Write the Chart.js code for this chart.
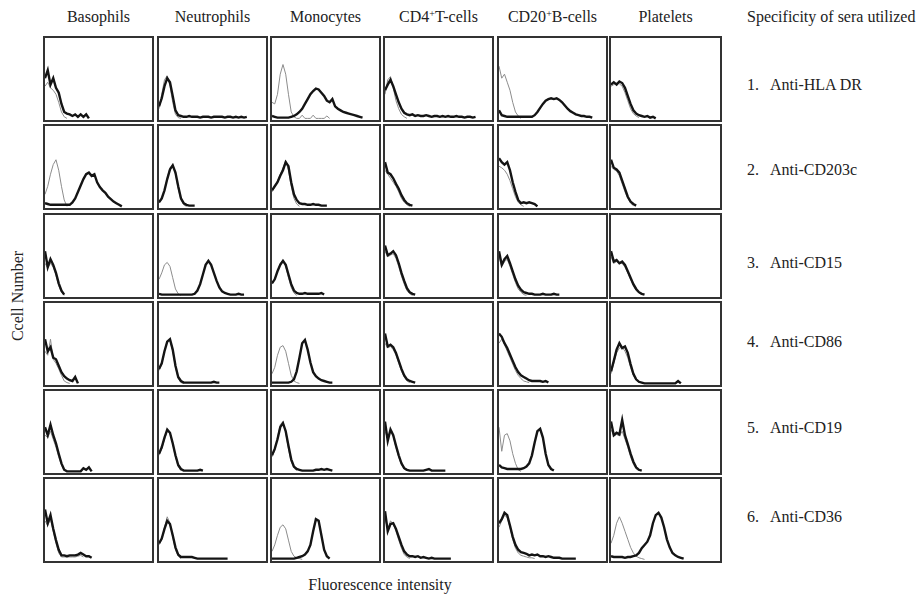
<!DOCTYPE html>
<html>
<head>
<meta charset="utf-8">
<script src="https://cdn.jsdelivr.net/npm/chart.js@4.4.1/dist/chart.umd.min.js"></script>
<style>
  body { margin: 0; width: 920px; height: 597px; background: #fff; position: relative; overflow: hidden;
         font-family: 'Liberation Serif', 'Times New Roman', serif; color: #222; }
  .lbl { position: absolute; font-size: 16px; line-height: 18px; white-space: nowrap; }
  .panel { position: absolute; box-sizing: border-box; border: 2px solid #333; background: #fff; }
  .panel canvas { display: block; }
  sup { font-size: 10px; vertical-align: 5px; line-height: 0; }
</style>
</head>
<body>
<script>
// cell populations (columns) and sera (rows)
const cellTypes = ['Basophils', 'Neutrophils', 'Monocytes', 'CD4<sup>+</sup>T-cells', 'CD20<sup>+</sup>B-cells', 'Platelets'];
const seraLabels = ['Anti-HLA DR', 'Anti-CD203c', 'Anti-CD15', 'Anti-CD86', 'Anti-CD19', 'Anti-CD36'];

// fluorescence channels (40 bins per histogram)
const channels = Array.from({ length: 40 }, (_, i) => i);

// cell counts per channel, one entry per cell type (bas, neu, mono, cd4, cd20, plt)
// test = specific serum (thick black), control = control serum (thin grey)
const hlaDrTest = [
  [50,60,42,50,38,32,18,8,6,5,3,5,2,5,2,5,0],
  [15,25,40,50,45,28,10,4,3,2,2,3,2,2,2,1,2,2,2,1,2,2,2,2,1,2,2,1,2,1,2,1,2],
  [3,2,1,1,1,1,1,2,3,5,8,12,18,24,30,34,37,36,32,28,22,20,24,15,12,10,8,7,6,5,4,3,2,1],
  [35,42,48,40,30,20,12,7,5,4,5,3,4,3,3,4,3,2,3,3,2,3,2,3,2,2,3,2,2,1,2,2,1,2],
  [10,4,3,2,2,2,2,2,2,2,2,2,2,4,8,13,18,22,24,25,24,25,23,20,16,12,9,7,5,4,3,3,2,2,1],
  [42,45,42,46,44,38,28,18,10,6,4,3,2,3,1,2,0]
];
const hlaDrControl = [
  [40,45,38,35,30,20,8,2,0],
  [12,30,48,53,40,20,5,1,0],
  [20,18,30,55,67,55,30,8,2,0,0,4,0,0,0,4,0,0,0,0,3,0],
  [30,48,52,38,22,12,5,2,0],
  [65,50,55,45,35,20,8,3,0],
  [40,42,44,43,40,32,22,12,6,3,1]
];

const cd203cTest = [
  [4,3,2,2,2,2,2,2,2,2,5,10,18,26,34,40,42,38,40,30,24,20,17,12,9,6,4,2,0],
  [5,10,20,34,46,51,42,25,10,4,2,1,1,1],
  [20,25,30,38,45,55,50,30,15,8,4,3,3,2,2,3,2,2,1,1,1],
  [55,42,40,35,28,22,14,8,4,2,1],
  [60,55,52,55,45,30,18,8,4,5,4,5,4,3,0],
  [58,48,46,42,32,22,12,6,3,1]
];
const cd203cControl = [
  [15,25,40,52,58,45,25,8,0],
  [4,9,20,35,48,52,40,22,8,2,0],
  [18,24,32,40,48,57,45,25,10,3,0],
  [45,40,35,30,25,18,10,5,2,0],
  [50,48,45,40,32,22,12,5,2,0],
  [50,46,44,38,28,18,10,4,1]
];

const cd15Test = [
  [55,35,45,38,28,15,6,1],
  [2,1,1,1,1,1,1,1,1,1,1,1,1,2,6,14,26,38,43,38,28,18,10,5,3,2,1,1,1,2,1,1],
  [15,20,30,38,43,38,26,14,6,3,2,2,3,2,2,2,2,2,3,1],
  [62,50,52,55,50,40,28,18,9,4,2,1],
  [55,38,45,49,40,30,20,12,7,4,3,2,2,1,1,1,2,1,1,1,2,1,1],
  [55,42,44,40,42,38,30,22,14,8,4,2,1]
];
const cd15Control = [
  [40,34,40,35,25,12,4,0],
  [20,28,38,41,36,22,8,2,0],
  [14,20,30,40,44,36,22,10,3,0],
  [55,48,50,52,46,36,24,14,6,2,0],
  [48,36,42,45,36,26,16,8,4,1,0],
  [48,40,42,40,40,35,28,20,12,6,3,1]
];

const cd86Test = [
  [55,40,45,32,30,22,14,9,6,4,3,8,0],
  [18,25,40,52,55,42,22,8,3,1,1,1,1,1,1,1,1,1,1,1,2,1,1],
  [1,1,1,1,1,1,1,2,5,15,32,50,54,42,26,14,9,6,4,3,2,1,1],
  [62,46,48,45,38,28,18,10,5,3,2,1],
  [62,58,50,44,36,28,20,14,10,8,6,4,3,3,3,3,2,3,1],
  [15,28,42,50,44,46,38,24,12,5,2,1,0,0,0,0,0,0,0,0,0,0,0,0,3,0]
];
const cd86Control = [
  [40,35,55,30,25,18,10,3,1,0],
  [16,24,40,53,54,40,20,6,1,0],
  [12,20,35,45,47,40,25,10,3,1,0],
  [50,44,46,42,35,25,15,8,3,1],
  [50,55,48,40,32,24,16,10,6,3,2,1],
  [12,25,38,44,45,40,32,20,10,4,1]
];

const cd19Test = [
  [55,45,58,45,35,22,10,2,0,0,0,0,0,0,4,2,5,0],
  [22,30,42,52,48,35,20,8,3,1,1,1,1,1,1,2,1],
  [20,28,40,55,60,50,32,15,6,3,2,1,1,1,1,1,2,2,3,2,3,2,1],
  [62,38,52,45,32,20,10,4,2,1,1,1,1,1,1,2,3,1,1,1,1,1,1],
  [8,5,4,3,3,3,3,3,3,4,6,10,20,36,50,53,42,22,8,3,1],
  [62,45,48,46,64,45,34,22,12,5,2,1]
];
const cd19Control = [
  [45,42,50,40,30,18,8,1],
  [20,28,40,50,48,34,18,6,1],
  [18,26,42,58,62,48,28,12,4,1],
  [50,40,52,44,30,18,8,3,1],
  [55,25,45,47,38,22,10,2,0],
  [52,44,46,44,50,40,30,18,9,3,1]
];

const cd36Test = [
  [62,45,55,38,24,12,5,5,4,5,5,5,6,8,6,4,4,2],
  [20,26,38,48,44,30,15,6,3,3,3,3,3,2,1,1,1,1,1,1,1,1,1,1,1,1],
  [1,1,1,1,1,1,1,1,1,2,3,4,6,10,18,35,50,48,30,12,4,1],
  [60,35,44,45,38,28,18,10,6,4,4,3,4,2,3,2,1,2,1,1,1,1,1,1,1],
  [45,50,58,55,42,28,18,12,9,8,7,5,6,5,6,4,4,3,4,3,2,2,2,1,1,1,1,1,1],
  [4,3,3,3,3,2,3,3,4,5,8,14,18,22,30,45,55,58,52,40,25,15,8,5,3,2,1]
];
const cd36Control = [
  [48,42,50,35,20,8,3,3,3,3,3,3,4,5,3],
  [18,25,40,53,45,28,12,4,1],
  [10,18,30,40,43,38,24,10,4,2,1,0],
  [50,38,48,44,35,24,14,6,3,1],
  [40,48,55,52,40,25,14,8,5,4,3,2,2,1],
  [20,30,45,53,45,35,25,15,8,4,2,1,0]
];

const testRows = [hlaDrTest, cd203cTest, cd15Test, cd86Test, cd19Test, cd36Test];
const controlRows = [hlaDrControl, cd203cControl, cd15Control, cd86Control, cd19Control, cd36Control];

// layout
const colLeft = [43, 157, 270, 383, 497, 609];
const colWidth = [111, 111, 111, 111, 111, 113];
const rowTop = [36, 124, 213, 301, 389, 477];
const rowHeight = 86;
const seraY = [85, 170, 263, 342, 428, 517];

function addLabel(html, x, y, extra) {
  const d = document.createElement('div');
  d.className = 'lbl';
  d.innerHTML = html;
  d.style.left = x + 'px';
  d.style.top = y + 'px';
  if (extra) Object.assign(d.style, extra);
  document.body.appendChild(d);
  return d;
}

// column headers
cellTypes.forEach((name, c) => {
  addLabel(name, colLeft[c], 8, { width: colWidth[c] + 'px', textAlign: 'center' });
});
addLabel('Specificity of sera utilized', 747, 8);

// row labels on the right
seraLabels.forEach((name, r) => {
  addLabel((r + 1) + '.', 747, seraY[r] - 9);
  addLabel(name, 770, seraY[r] - 9);
});

addLabel('Ccell Number', 18, 296, { transform: 'translate(-50%,-50%) rotate(-90deg)' });
addLabel('Fluorescence intensity', 380, 585, { transform: 'translate(-50%,-50%)' });

// one small histogram chart per panel
rowTop.forEach((top, r) => {
  colLeft.forEach((left, c) => {
    const box = document.createElement('div');
    box.className = 'panel';
    box.style.left = left + 'px';
    box.style.top = top + 'px';
    box.style.width = colWidth[c] + 'px';
    box.style.height = rowHeight + 'px';
    const cv = document.createElement('canvas');
    cv.width = colWidth[c] - 4;
    cv.height = rowHeight - 4;
    box.appendChild(cv);
    document.body.appendChild(box);

    new Chart(cv, {
      type: 'line',
      data: {
        labels: channels,
        datasets: [
          { data: testRows[r][c], borderColor: '#141414', borderWidth: 2.4, pointRadius: 0, tension: 0 },
          { data: controlRows[r][c], borderColor: '#8c8c8c', borderWidth: 1, pointRadius: 0, tension: 0 }
        ]
      },
      options: {
        responsive: false,
        animation: false,
        events: [],
        layout: { padding: 0 },
        plugins: { legend: { display: false }, tooltip: { enabled: false } },
        scales: {
          x: { display: false },
          y: { display: false, min: -2, max: 100 }
        }
      }
    });
  });
});
</script>
</body>
</html>
